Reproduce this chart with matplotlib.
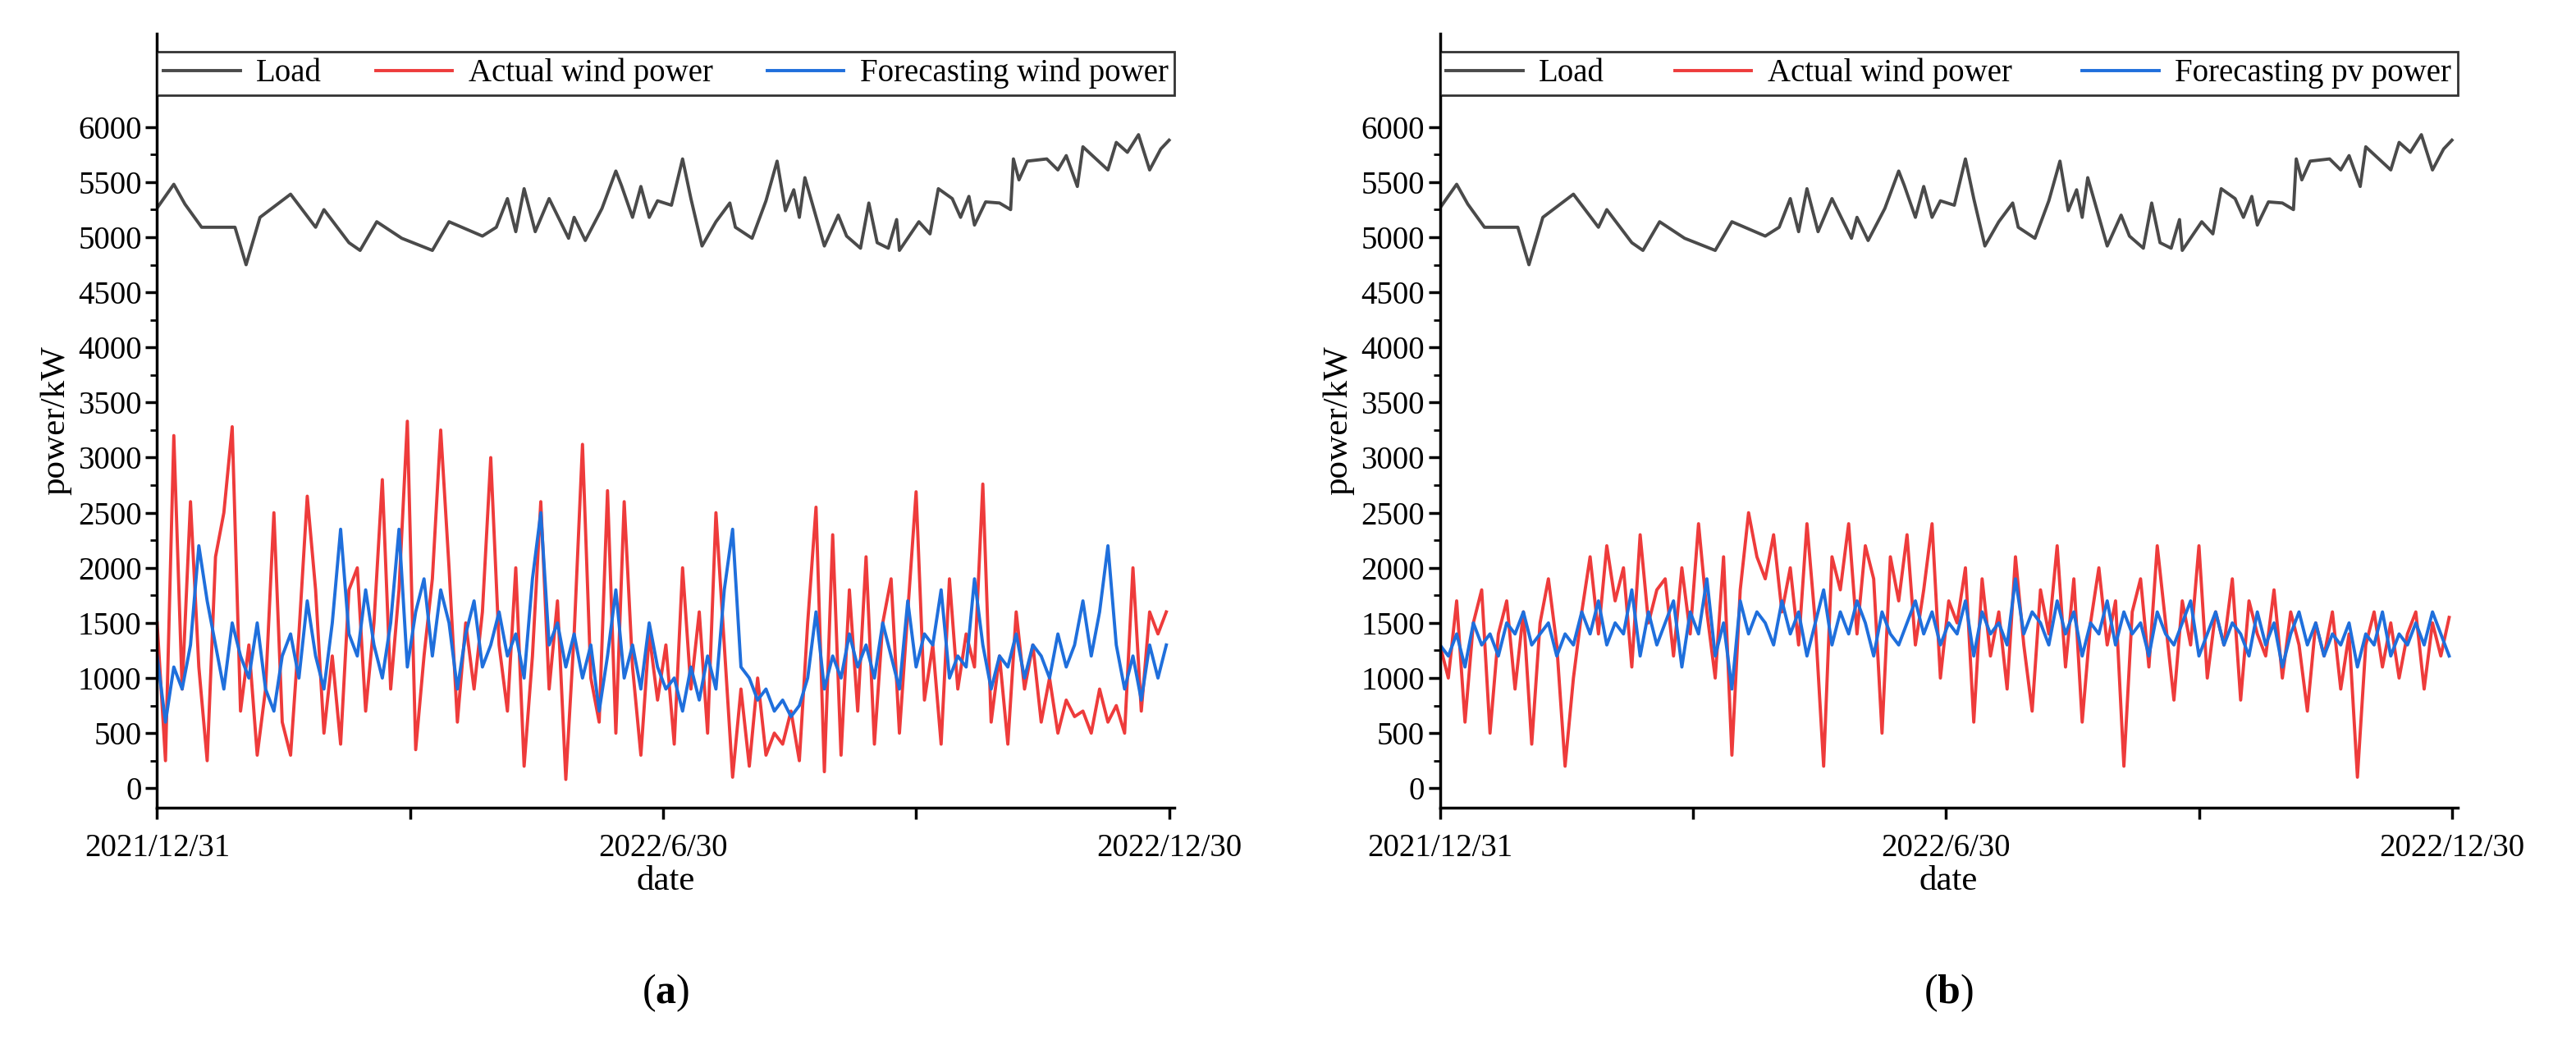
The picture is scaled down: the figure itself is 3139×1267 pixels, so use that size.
import matplotlib.pyplot as plt
import numpy as np

# load curve (same in both panels): day of year, kW
load_day = [0, 6, 10, 16, 28, 32, 37, 48, 57, 60, 69, 73, 79, 88, 99, 105, 117, 122, 126, 129,
            132, 136, 141, 148, 150, 154, 160, 165, 167, 171, 174, 177, 180, 185, 189, 192, 196,
            201, 206, 208, 214, 219, 223, 226, 229, 231, 233, 240, 245, 248, 253, 256, 259, 263,
            266, 267, 274, 278, 281, 286, 289, 292, 294, 298, 303, 307, 308, 310, 313, 320, 324,
            327, 331, 333, 342, 345, 349, 353, 357, 361, 364]
load_kw = [5265, 5480, 5300, 5090, 5090, 4750, 5180, 5390, 5090, 5250, 4950, 4880, 5140, 4990,
           4880, 5140, 5010, 5090, 5350, 5050, 5440, 5050, 5350, 4990, 5180, 4970, 5260, 5600,
           5470, 5180, 5460, 5180, 5330, 5290, 5710, 5350, 4920, 5140, 5310, 5090, 4990, 5330,
           5690, 5240, 5430, 5180, 5540, 4920, 5200, 5010, 4900, 5310, 4950, 4900, 5160, 4880,
           5140, 5030, 5440, 5350, 5180, 5370, 5110, 5320, 5310, 5250, 5710, 5520, 5690, 5710,
           5610, 5740, 5460, 5820, 5610, 5860, 5770, 5930, 5610, 5800, 5880]

# wind / pv series, one value every 3 days
wind_actual = [1500, 250, 3200, 900, 2600, 1100, 250, 2100, 2500, 3280, 700, 1300,
               300, 900, 2500, 600, 300, 1400, 2650, 1800, 500, 1200, 400, 1800,
               2000, 700, 1500, 2800, 900, 1800, 3330, 350, 1200, 1900, 3250, 2000,
               600, 1500, 900, 1600, 3000, 1300, 700, 2000, 200, 1200, 2600, 900,
               1700, 80, 1400, 3120, 1000, 600, 2700, 500, 2600, 1100, 300, 1400,
               800, 1300, 400, 2000, 900, 1600, 500, 2500, 1300, 100, 900, 200,
               1000, 300, 500, 400, 700, 250, 1500, 2550, 150, 2300, 300, 1800,
               700, 2100, 400, 1500, 1900, 500, 1600, 2690, 800, 1300, 400, 1900,
               900, 1400, 1100, 2760, 600, 1200, 400, 1600, 900, 1300, 600, 1000,
               500, 800, 650, 700, 500, 900, 600, 750, 500, 2000, 700, 1600,
               1400, 1600]
wind_fore = [1200, 600, 1100, 900, 1300, 2200, 1700, 1300, 900, 1500, 1200, 1000,
             1500, 900, 700, 1200, 1400, 1000, 1700, 1200, 900, 1500, 2350, 1400,
             1200, 1800, 1300, 1000, 1500, 2350, 1100, 1600, 1900, 1200, 1800, 1500,
             900, 1400, 1700, 1100, 1300, 1600, 1200, 1400, 1000, 1900, 2500, 1300,
             1500, 1100, 1400, 1000, 1300, 700, 1200, 1800, 1000, 1300, 900, 1500,
             1100, 900, 1000, 700, 1100, 800, 1200, 900, 1800, 2350, 1100, 1000,
             800, 900, 700, 800, 650, 750, 1000, 1600, 900, 1200, 1000, 1400,
             1100, 1300, 1000, 1500, 1200, 900, 1700, 1100, 1400, 1300, 1800, 1000,
             1200, 1100, 1900, 1300, 900, 1200, 1100, 1400, 1000, 1300, 1200, 1000,
             1400, 1100, 1300, 1700, 1200, 1600, 2200, 1300, 900, 1200, 800, 1300,
             1000, 1300]
pv_actual = [1300, 1000, 1700, 600, 1500, 1800, 500, 1400, 1700, 900, 1600, 400,
             1500, 1900, 1300, 200, 1000, 1600, 2100, 1400, 2200, 1700, 2000, 1100,
             2300, 1500, 1800, 1900, 1200, 2000, 1400, 2400, 1600, 1000, 2100, 300,
             1800, 2500, 2100, 1900, 2300, 1600, 2000, 1300, 2400, 1500, 200, 2100,
             1800, 2400, 1400, 2200, 1900, 500, 2100, 1700, 2300, 1300, 1800, 2400,
             1000, 1700, 1500, 2000, 600, 1900, 1200, 1600, 900, 2100, 1300, 700,
             1800, 1400, 2200, 1100, 1900, 600, 1500, 2000, 1300, 1700, 200, 1600,
             1900, 1100, 2200, 1500, 800, 1700, 1300, 2200, 1000, 1600, 1300, 1900,
             800, 1700, 1400, 1200, 1800, 1000, 1600, 1300, 700, 1500, 1200, 1600,
             900, 1400, 100, 1300, 1600, 1100, 1500, 1000, 1400, 1600, 900, 1500,
             1200, 1550]
pv_fore = [1300, 1200, 1400, 1100, 1500, 1300, 1400, 1200, 1500, 1400, 1600, 1300,
           1400, 1500, 1200, 1400, 1300, 1600, 1400, 1700, 1300, 1500, 1400, 1800,
           1200, 1600, 1300, 1500, 1700, 1100, 1600, 1400, 1900, 1200, 1500, 900,
           1700, 1400, 1600, 1500, 1300, 1700, 1400, 1600, 1200, 1500, 1800, 1300,
           1600, 1400, 1700, 1500, 1200, 1600, 1400, 1300, 1500, 1700, 1400, 1600,
           1300, 1500, 1400, 1700, 1200, 1600, 1400, 1500, 1300, 1900, 1400, 1600,
           1500, 1300, 1700, 1400, 1600, 1200, 1500, 1400, 1700, 1300, 1600, 1400,
           1500, 1200, 1600, 1400, 1300, 1500, 1700, 1200, 1400, 1600, 1300, 1500,
           1400, 1200, 1600, 1300, 1500, 1100, 1400, 1600, 1300, 1500, 1200, 1400,
           1300, 1500, 1100, 1400, 1300, 1600, 1200, 1400, 1300, 1500, 1300, 1600,
           1400, 1200]

tick_days = [0, 91, 182, 273, 364]
tick_labels = ['2021/12/31', '', '2022/6/30', '', '2022/12/30']

plt.rcParams['font.family'] = ['Liberation Serif', 'DejaVu Serif']
plt.rcParams['mathtext.fontset'] = 'custom'
plt.rcParams['mathtext.bf'] = 'Liberation Serif:bold'
fig = plt.figure(figsize=(31.39, 12.67), dpi=100)

panels = [
    ([0.061, 0.223, 0.395, 0.745], wind_actual, wind_fore, 'Forecasting wind power', 'a'),
    ([0.559, 0.223, 0.395, 0.745], pv_actual, pv_fore, 'Forecasting pv power', 'b'),
]
day3 = np.arange(0, 366, 3)
for rect, act, fore, flabel, tag in panels:
    ax = fig.add_axes(rect)
    ax.plot(load_day, load_kw, color='#4a4a4a', lw=2.8, label='Load')
    ax.plot(day3, act, color='#ee3b3b', lw=2.8, label='Actual wind power')
    ax.plot(day3, fore, color='#1f6fdc', lw=2.8, label=flabel)
    ax.set_xlim(0, 366)
    ax.set_ylim(-180, 6850)
    ax.set_yticks(np.arange(0, 6001, 500))
    ax.set_yticks(np.arange(0, 6001, 250), minor=True)
    ax.set_xticks(tick_days)
    ax.set_xticklabels(tick_labels)
    for s in ['top', 'right']:
        ax.spines[s].set_visible(False)
    for s in ['left', 'bottom']:
        ax.spines[s].set_linewidth(2.5)
    ax.tick_params(axis='both', labelsize=28, width=2.5, length=10)
    ax.tick_params(axis='y', which='minor', width=2, length=6)
    ax.tick_params(axis='x', pad=12)
    ax.set_xlabel('date', fontsize=31, labelpad=2)
    ax.set_ylabel('power/kW', fontsize=31, labelpad=6)
    leg = ax.legend(loc='lower left', ncol=3, fontsize=28, frameon=True, fancybox=False,
                    edgecolor='black', borderpad=0.2, handlelength=2.4, handletextpad=0.5,
                    columnspacing=0.8,
                    bbox_to_anchor=(0.0, 0.92, 1.0, 0.08), mode='expand', borderaxespad=0)
    leg.get_frame().set_linewidth(2)
    x_mid = rect[0] + rect[2] / 2
    fig.text(x_mid, 0.045, '($\\mathbf{' + tag + '}$)', ha='center', va='center', fontsize=36)

fig.savefig('out.png', dpi=100)
